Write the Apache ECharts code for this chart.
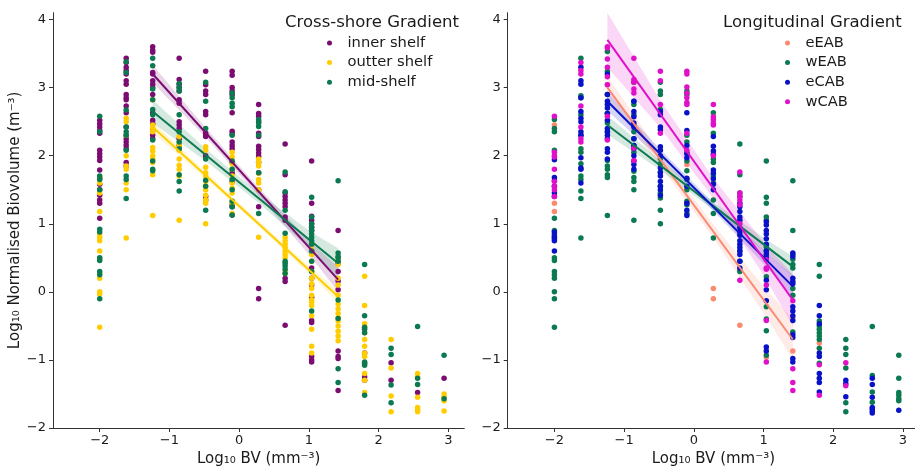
<!DOCTYPE html>
<html>
<head>
<meta charset="utf-8">
<title>Biovolume spectra</title>
<script src="https://cdn.jsdelivr.net/npm/echarts@6/dist/echarts.min.js"></script>
<style>
  html, body { margin: 0; padding: 0; background: #fff; }
  #chart { width: 915px; height: 469px; }
</style>
</head>
<body>
<div id="chart"></div>
<script>
// size-class positions on the x axis (log10 BV)
const xCols = [-2, -1.62, -1.24, -0.86, -0.48, -0.10, 0.28, 0.66, 1.04, 1.42, 1.80, 2.18, 2.56, 2.94];
const tickX = [-2, -1, 0, 1, 2, 3];
const tickY = [-2, -1, 0, 1, 2, 3, 4];

// ---- left panel: cross-shore groups, y values per x column ----
const innerShelf = [
  [2.52, 2.47, 2.42, 2.37, 2.33, 2.08, 2.03, 1.98, 1.93, 1.79, 1.67, 1.58, 1.5, 1.42, 1.35, 1.3, 1.08],
  [3.43, 3.37, 3.3, 3.25, 3.2, 3.1, 3.05, 2.9, 2.85, 2.82, 2.73, 2.63, 2.42, 2.3, 2.25, 2.2, 2.15, 2.1, 1.9, 1.85],
  [3.6, 3.55, 3.52, 3.22, 3.2, 3.1, 3.05, 3.0, 2.9, 2.63, 2.52, 2.47, 2.37, 2.3, 2.25],
  [3.43, 3.12, 3.05, 3.0, 2.95, 2.82, 2.77, 2.5, 2.45, 2.4, 2.25, 2.15, 2.1],
  [3.24, 3.04, 2.95, 2.9, 2.65, 2.6, 2.33, 2.3, 2.28, 2.0, 1.4, 1.35],
  [3.24, 3.18, 3.0, 2.95, 2.9, 2.63, 2.36, 2.32, 2.2, 2.15, 2.1, 1.9, 1.75, 1.62, 1.28, 1.25, 1.13],
  [2.75, 2.62, 2.58, 2.5, 2.33, 2.28, 2.14, 2.09, 2.04, 1.99, 1.9, 1.75, 1.5, 1.25, 0.05, -0.1],
  [2.17, 1.72, 1.45, 1.4, 1.35, 1.3, 1.25, 1.1, 1.05, 0.2, 0.15, -0.49],
  [1.92, 1.3, 1.11, 1.05, 1.0, 0.95, 0.9, 0.6, 0.35, 0.2, 0.1, -0.08, -0.42, -0.45, -0.95, -1.0, -1.03],
  [0.9, 0.42, 0.3, 0.16, 0.03, -0.87, -0.95, -0.98, -1.45],
  [-0.9, -1.25, -1.3],
  [-1.04, -1.3],
  [-1.48],
  [-1.27]
];
const outterShelf = [
  [1.68, 1.6, 1.45, 1.18, 0.85, 0.8, 0.75, 0.6, 0.48, 0.28, 0.2, 0.0, -0.03, -0.52],
  [2.55, 2.5, 2.3, 2.0, 1.85, 1.8, 1.6, 1.5, 0.79],
  [2.82, 2.45, 2.4, 2.35, 2.12, 2.07, 2.0, 1.95, 1.9, 1.72, 1.12],
  [2.28, 2.2, 2.15, 2.08, 1.95, 1.86, 1.8, 1.7, 1.05],
  [2.13, 2.08, 1.83, 1.75, 1.7, 1.62, 1.55, 1.5, 1.42, 1.35, 1.3, 1.0],
  [2.05, 1.98, 1.88, 1.8, 1.7, 1.6, 1.52, 1.45, 1.3, 1.15],
  [1.95, 1.9, 1.85, 1.74, 1.65, 1.6, 1.5, 0.8],
  [0.8, 0.75, 0.7, 0.65, 0.6, 0.55, 0.5, 0.3, 0.27],
  [0.7, 0.62, 0.55, 0.45, 0.3, 0.2, 0.12, 0.05, -0.05, -0.12, -0.15, -0.2, -0.35, -0.55, -0.8, -0.9],
  [0.47, 0.4, 0.2, 0.1, -0.05, -0.18, -0.25, -0.32, -0.38, -0.43, -0.5, -0.58, -0.65, -0.72],
  [0.23, -0.2, -0.47, -0.52, -0.6, -0.7, -0.8, -0.9, -0.95, -1.05, -1.2, -1.3, -1.48],
  [-0.7, -1.12, -1.53, -1.76],
  [-1.2, -1.25, -1.55, -1.7, -1.73, -1.76],
  [-1.5, -1.55, -1.6, -1.75]
];
const midShelf = [
  [2.58, 2.35, 1.7, 1.65, 1.5, 0.92, 0.88, 0.5, 0.46, 0.3, 0.25, -0.1],
  [3.38, 3.22, 2.67, 2.42, 2.35, 2.3, 2.08, 1.7, 1.65, 1.37],
  [3.43, 3.32, 2.98, 2.82, 2.68, 2.6, 2.23, 1.92, 1.8, 1.78],
  [3.06, 3.0, 2.95, 2.6, 2.35, 2.2, 2.1, 1.72, 1.62, 1.48],
  [3.08, 2.8, 2.4, 1.95, 1.64, 1.55, 1.2],
  [2.92, 2.85, 2.77, 2.72, 2.3, 1.92, 1.8, 1.65, 1.5, 1.33, 1.25, 1.13],
  [2.53, 2.48, 2.43, 2.3, 1.75, 1.15],
  [1.76, 1.47, 1.2, 0.86, 0.45, 0.42, 0.38, 0.33, 0.27],
  [1.39, 1.1, 1.0, 0.95, 0.9, 0.85, 0.8, 0.75, 0.7, 0.6, 0.45, 0.3, -0.28],
  [1.63, 0.57, 0.52, 0.5, 0.45, -0.12, -0.39, -1.13, -1.33],
  [0.4, -0.35, -0.52, -0.55, -0.6, -1.03, -1.05, -1.08, -1.52],
  [-0.83, -0.92, -1.37, -1.63],
  [-0.51, -1.27, -1.36],
  [-0.93, -1.57]
];

// ---- right panel: longitudinal groups ----
const eEAB = [
  [2.45, 1.3, 1.18], [], [3.04, 2.62], [2.45], [1.88], [1.87],
  [0.05, -0.1], [0.32, -0.49], [-0.96], [-0.38, -0.87], [-0.75], [], [], []
];
const wEAB = [
  [2.53, 2.4, 2.35, 2.08, 1.08, 0.9, 0.85, 0.8, 0.5, 0.46, 0.3, 0.25, 0.2, 0.0, -0.1, -0.52],
  [3.43, 2.88, 2.85, 2.6, 2.3, 2.1, 2.05, 1.88, 1.7, 1.65, 1.48, 1.37, 0.79],
  [3.53, 3.24, 2.9, 2.62, 2.48, 2.35, 1.93, 1.85, 1.8, 1.72, 1.68, 1.12],
  [3.08, 2.8, 2.75, 2.6, 2.35, 2.25, 2.15, 2.05, 1.77, 1.68, 1.62, 1.5, 1.05],
  [3.08, 2.95, 2.9, 2.68, 1.96, 1.88, 1.76, 1.55, 1.45, 1.38, 1.2, 1.0],
  [2.95, 2.9, 2.3, 2.2, 2.05, 1.92, 1.78, 1.65, 1.5, 1.33, 1.28, 1.15],
  [2.63, 2.33, 1.95, 1.9, 1.7, 1.6, 1.35, 1.15, 0.79],
  [2.17, 1.72, 1.45, 1.4, 0.6, 0.45, 0.3],
  [1.92, 1.39, 1.3, 1.1, 1.05, 0.66, 0.6, 0.22, -0.22, -0.4, -0.57, -0.93],
  [1.63, 0.9, 0.55, 0.48, 0.4, 0.35, 0.05, -0.05, -0.59],
  [0.4, 0.23, -0.43, -0.5, -0.55, -0.6, -0.65, -0.7, -0.83, -1.05],
  [-0.7, -0.83, -0.92, -1.12, -1.63, -1.76],
  [-0.51, -1.23, -1.47, -1.62],
  [-0.93, -1.27, -1.48, -1.52, -1.57, -1.6]
];
const eCAB = [
  [1.94, 1.68, 1.63, 1.55, 1.45, 1.4, 0.88, 0.82, 0.78, 0.75, 0.6],
  [3.3, 3.1, 3.05, 2.85, 2.65, 2.55, 2.5, 2.35, 2.3, 1.97, 1.82, 1.8, 1.6],
  [3.2, 2.9, 2.8, 2.75, 2.7, 2.62, 2.52, 2.4, 2.35, 2.3, 2.25, 2.1, 2.05, 1.95],
  [2.8, 2.65, 2.57, 2.48, 2.42, 2.25, 2.15, 2.1, 2.0, 1.92, 1.87, 1.8],
  [2.65, 2.6, 2.42, 2.38, 2.13, 2.08, 2.0, 1.82, 1.75, 1.7, 1.62, 1.55, 1.5, 1.42],
  [2.63, 2.37, 2.15, 2.03, 1.97, 1.67, 1.55, 1.3, 1.2, 1.12],
  [2.28, 2.14, 2.07, 2.02, 1.79, 1.74, 1.66, 1.58, 1.5],
  [1.3, 1.25, 1.18, 1.1, 1.05, 0.94, 0.88, 0.83, 0.75, 0.7, 0.65, 0.6, 0.55, 0.45, 0.35],
  [1.03, 0.98, 0.9, 0.85, 0.78, 0.7, 0.6, 0.55, 0.5, 0.17, 0.03, -0.13, -0.81, -0.87],
  [0.57, 0.52, 0.2, 0.15, 0.12, -0.22, -0.28, -0.35, -0.42, -0.63, -0.67, -0.98, -1.03],
  [-0.2, -0.35, -0.47, -0.9, -0.95, -1.2, -1.27, -1.33, -1.47],
  [-1.3, -1.35, -1.54],
  [-1.27, -1.36, -1.55, -1.7, -1.72, -1.75, -1.78],
  [-1.74]
];
const wCAB = [
  [2.58, 2.05, 2.0, 1.98, 1.8, 1.62, 1.55, 1.5, 1.4],
  [3.37, 3.25, 3.2, 2.73, 2.42, 2.25, 2.2],
  [3.6, 3.58, 3.42, 3.3, 3.16, 3.04, 2.58, 2.23],
  [3.43, 3.12, 3.08, 2.98, 2.92, 2.11, 1.93],
  [3.24, 3.1, 2.75, 2.33],
  [3.24, 3.2, 3.01, 2.92, 2.85, 2.78, 2.75, 2.33, 2.08],
  [2.75, 2.57, 2.53, 2.48, 2.45, 2.0],
  [1.76, 1.45, 1.4, 1.35, 1.28, 1.0, 0.17],
  [0.47, 0.35, 0.33, 0.1, -0.42, -1.03],
  [-0.13, -1.13, -1.33, -1.45],
  [-1.07, -1.52],
  [-1.04, -1.38],
  [], []
];

// ---- regression lines (end points) and confidence bands ----
const fitX = [-1.24, 1.42];
const bandX = [-1.24, -0.48, 0.28, 1.04, 1.42];

const innerFit = [3.2, 0.18];
const innerLo = [3.07, 2.27, 1.41, 0.50, 0.00];
const innerHi = [3.33, 2.41, 1.53, 0.72, 0.36];
const outterFit = [2.42, -0.07];
const outterLo = [2.34, 1.66, 0.96, 0.23, -0.16];
const outterHi = [2.50, 1.76, 1.04, 0.35, 0.02];
const midFit = [2.65, 0.42];
const midLo = [2.48, 1.92, 1.31, 0.61, 0.20];
const midHi = [2.82, 2.10, 1.45, 0.87, 0.64];

const eEABFit = [3.0, -0.7];
const eEABLo = [2.83, 1.85, 0.79, -0.37, -1.0];
const eEABHi = [3.17, 2.03, 0.99, 0.03, -0.4];
const wEABFit = [2.45, 0.37];
const wEABLo = [2.31, 1.79, 1.20, 0.57, 0.22];
const wEABHi = [2.59, 1.93, 1.32, 0.77, 0.52];
const eCABFit = [2.8, 0.08];
const eCABLo = [2.66, 1.95, 1.19, 0.37, -0.08];
const eCABHi = [2.94, 2.09, 1.31, 0.57, 0.24];
const wCABFit = [3.7, -0.12];
const wCABLo = [3.30, 2.41, 1.37, 0.18, -0.50];
const wCABHi = [4.10, 2.81, 1.67, 0.68, 0.26];

const FONT = 'DejaVu Sans';
const INK = '#1a1a1a';

function points(cols) {
  const out = [];
  cols.forEach((ys, i) => ys.forEach(y => out.push([xCols[i], y])));
  return out;
}

function minus(v) {
  return v < 0 ? '\u2212' + Math.abs(v) : String(v);
}

// scatter + band + fitted line, in the order seaborn draws them
function group(name, idx, cols, fit, lo, hi, color) {
  return [
    {
      type: 'scatter', name, xAxisIndex: idx, yAxisIndex: idx,
      data: points(cols), symbolSize: 5.5, itemStyle: { color, opacity: 1 }, silent: true
    },
    {
      type: 'custom', name: name + ' ci', xAxisIndex: idx, yAxisIndex: idx, silent: true,
      data: bandX.map((x, i) => [x, lo[i], hi[i]]),
      encode: { x: 0, y: [1, 2] },
      renderItem(params, api) {
        if (params.dataIndex !== 0) return null;
        const top = bandX.map((x, i) => api.coord([x, hi[i]]));
        const bot = bandX.map((x, i) => api.coord([x, lo[i]])).reverse();
        return { type: 'polygon', shape: { points: top.concat(bot) }, style: { fill: color, opacity: 0.17 } };
      }
    },
    {
      type: 'line', name: name + ' fit', xAxisIndex: idx, yAxisIndex: idx, silent: true,
      data: fitX.map((x, i) => [x, fit[i]]), showSymbol: false,
      lineStyle: { color, width: 2 }
    }
  ];
}

function xAxis(idx) {
  return {
    type: 'value', gridIndex: idx, min: -2.67, max: 3.23,
    name: 'Log\u2081\u2080 BV (mm\u207B\u00B3)', nameLocation: 'middle', nameGap: 24,
    nameTextStyle: { fontFamily: FONT, fontSize: 15, color: INK },
    axisLine: { onZero: false, lineStyle: { color: '#333', width: 1 } },
    axisTick: { customValues: tickX, length: 4, lineStyle: { color: '#333' } },
    axisLabel: { customValues: tickX, formatter: minus, fontFamily: FONT, fontSize: 13, color: INK, margin: 6 },
    splitLine: { show: false }
  };
}

function yAxis(idx, withName) {
  return {
    type: 'value', gridIndex: idx, min: -2, max: 4.1,
    name: withName ? 'Log\u2081\u2080 Normalised Biovolume (m\u207B\u00B3)' : '',
    nameLocation: 'middle', nameGap: 21,
    nameTextStyle: { fontFamily: FONT, fontSize: 15, color: INK },
    axisLine: { show: true, onZero: false, lineStyle: { color: '#333', width: 1 } },
    axisTick: { show: true, customValues: tickY, length: 4, lineStyle: { color: '#333' } },
    axisLabel: { customValues: tickY, formatter: minus, fontFamily: FONT, fontSize: 13, color: INK, margin: 7 },
    splitLine: { show: false }
  };
}

function legend(left, names) {
  return {
    orient: 'vertical', left, top: 35.5, padding: 0,
    itemWidth: 26, itemHeight: 5, itemGap: 4.6, icon: 'circle',
    data: names, selectedMode: false,
    textStyle: { fontFamily: FONT, fontSize: 14.7, color: INK, padding: 0 }
  };
}

const PURPLE = '#7b0c72', GOLD = '#ffcc00', GREEN = '#0c7a50';
const SALMON = '#fa8a70', BLUE = '#0a12c8', MAGENTA = '#e010c8';

const chart = echarts.init(document.getElementById('chart'), null, { renderer: 'canvas' });
chart.setOption({
  animation: false,
  backgroundColor: '#fff',
  grid: [
    { left: 53, top: 12.7, width: 411.3, height: 415.3, outerBoundsMode: 'none', containLabel: false },
    { left: 507.7, top: 12.7, width: 411.3, height: 415.3, outerBoundsMode: 'none', containLabel: false }
  ],
  xAxis: [xAxis(0), xAxis(1)],
  yAxis: [yAxis(0, true), yAxis(1, false)],
  title: [
    { text: 'Cross-shore Gradient', left: 285, top: 14.5, padding: 0,
      textStyle: { fontFamily: FONT, fontSize: 16.5, fontWeight: 'normal', color: INK } },
    { text: 'Longitudinal Gradient', left: 723, top: 14.5, padding: 0,
      textStyle: { fontFamily: FONT, fontSize: 16.5, fontWeight: 'normal', color: INK } }
  ],
  legend: [
    legend(327, ['inner shelf', 'outter shelf', 'mid-shelf']),
    legend(785, ['eEAB', 'wEAB', 'eCAB', 'wCAB'])
  ],
  series: [].concat(
    group('inner shelf', 0, innerShelf, innerFit, innerLo, innerHi, PURPLE),
    group('outter shelf', 0, outterShelf, outterFit, outterLo, outterHi, GOLD),
    group('mid-shelf', 0, midShelf, midFit, midLo, midHi, GREEN),
    group('eEAB', 1, eEAB, eEABFit, eEABLo, eEABHi, SALMON),
    group('wEAB', 1, wEAB, wEABFit, wEABLo, wEABHi, GREEN),
    group('eCAB', 1, eCAB, eCABFit, eCABLo, eCABHi, BLUE),
    group('wCAB', 1, wCAB, wCABFit, wCABLo, wCABHi, MAGENTA)
  )
});
</script>
</body>
</html>
